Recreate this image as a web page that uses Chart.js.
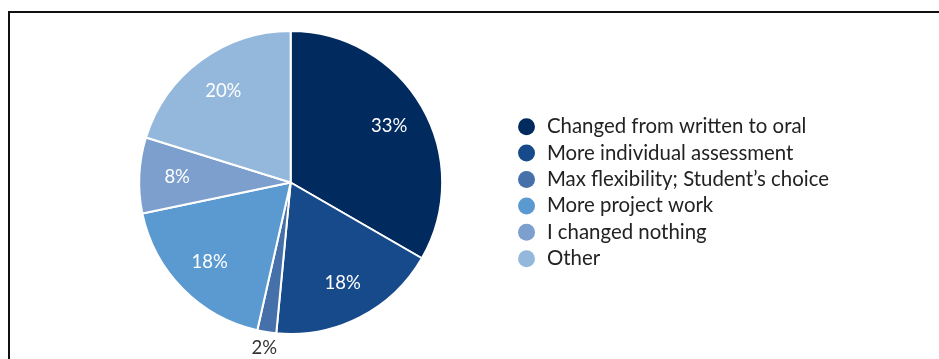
<!DOCTYPE html>
<html>
<head>
<meta charset="utf-8">
<script src="https://cdn.jsdelivr.net/npm/chart.js@4/dist/chart.umd.min.js"></script>
<style>
  body { margin: 0; background: #fff; }
  #wrap { position: relative; width: 939px; height: 359px; overflow: hidden; }
  #frame {
    position: absolute; left: 8px; top: 11px; width: 1000px; height: 400px;
    border-top: 2px solid #111; border-left: 2px solid #111;
  }
  #chart { position: absolute; left: 0; top: 0; }
</style>
</head>
<body>
<div id="wrap">
  <div id="frame"></div>
  <canvas id="chart" width="939" height="359"></canvas>
</div>
<script>
const labels = [
  'Changed from written to oral',
  'More individual assessment',
  'Max flexibility; Student\u2019s choice',
  'More project work',
  'I changed nothing',
  'Other'
];
const shares = [33, 18, 2, 18, 8, 20];
const colors = ['#012a5f', '#174a8b', '#4670a9', '#5a9ad1', '#7c9fcd', '#94b8dc'];

const FONT = 'Lato';

// percentage labels: inside the slice, or just outside when the slice is thin
const sliceLabels = {
  id: 'sliceLabels',
  afterDatasetsDraw(chart) {
    const ctx = chart.ctx;
    const meta = chart.getDatasetMeta(0);
    ctx.save();
    ctx.font = '18.5px ' + FONT;
    ctx.textAlign = 'center';
    ctx.textBaseline = 'middle';
    meta.data.forEach((arc, i) => {
      const value = shares[i];
      const mid = (arc.startAngle + arc.endAngle) / 2;
      const outside = value < 5;
      const r = outside ? arc.outerRadius + 16 : arc.outerRadius * 0.75;
      ctx.fillStyle = outside ? '#333' : '#fff';
      ctx.fillText(value + '%', arc.x + Math.cos(mid) * r, arc.y + Math.sin(mid) * r);
    });
    ctx.restore();
  }
};

new Chart(document.getElementById('chart'), {
  type: 'pie',
  data: {
    labels: labels,
    datasets: [{
      data: shares,
      backgroundColor: colors,
      borderColor: '#fff',
      borderWidth: 2
    }]
  },
  options: {
    responsive: false,
    animation: false,
    layout: { padding: { left: 71, right: 100, top: 30, bottom: 24 } },
    plugins: {
      tooltip: { enabled: false },
      legend: {
        position: 'right',
        // empty title only nudges the legend rows down a little
        title: { display: true, text: '', font: { size: 10 }, padding: { top: 4.2, bottom: 4.2 } },
        labels: {
          usePointStyle: true,
          pointStyle: 'circle',
          boxWidth: 20.4,
          boxHeight: 12,
          padding: 6,
          color: '#222',
          font: { family: FONT, size: 20.4 },
          generateLabels(chart) {
            const items = Chart.overrides.pie.plugins.legend.labels.generateLabels(chart);
            items.forEach((item) => { item.lineWidth = 0; });
            return items;
          }
        }
      }
    }
  },
  plugins: [sliceLabels]
});
</script>
</body>
</html>
